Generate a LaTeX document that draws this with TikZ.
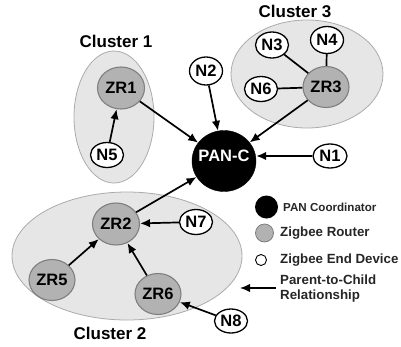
\documentclass[tikz,border=0pt]{standalone}
\usepackage{fontspec}
\setmainfont{Liberation Sans}
\usetikzlibrary{shapes.geometric,arrows.meta}
\definecolor{clusterfill}{HTML}{E6E6E6}
\definecolor{clusterdraw}{HTML}{ABABAB}
\definecolor{routerfill}{HTML}{B2B2B2}
\definecolor{routerdraw}{HTML}{7F7F7F}
\tikzset{
  cluster/.style={ellipse, fill=clusterfill, draw=clusterdraw, line width=0.8pt, inner sep=0pt},
  router/.style={ellipse, fill=routerfill, draw=routerdraw, line width=1.1pt, minimum width=46pt, minimum height=41pt, inner sep=0pt, font=\fontsize{16.5}{18}\selectfont\bfseries},
  enddev/.style={ellipse, fill=white, draw=black, line width=1.3pt, minimum width=33pt, minimum height=25pt, inner sep=0pt, font=\fontsize{16.5}{18}\selectfont\bfseries},
  coord/.style={ellipse, fill=black, draw=black, minimum width=64pt, minimum height=61pt, inner sep=0pt, text=white, font=\fontsize{16.5}{18}\selectfont\bfseries},
  clabel/.style={font=\fontsize{17}{19}\selectfont\bfseries, inner sep=0pt},
  legtext/.style={font=\fontsize{13.3}{15}\selectfont\bfseries, inner sep=0pt, anchor=west, text=black!85},
  conn/.style={line width=1.7pt, -{Latex[length=10pt,width=8.5pt]}},
  plain/.style={line width=1.7pt},
}
\begin{document}
\begin{tikzpicture}[x=1pt,y=-1pt]
\useasboundingbox (0,0) rectangle (401,346);
% clusters
\node[cluster, minimum width=80pt, minimum height=132pt] (c1) at (114,117) {};
\node[cluster, minimum width=152pt, minimum height=108pt] (c3) at (307,74) {};
\node[cluster, minimum width=230pt, minimum height=128pt] (c2) at (127,256) {};
\node[clabel] (l1) at (116,41) {Cluster 1};
\node[clabel] (l3) at (295,11) {Cluster 3};
\node[clabel] (l2) at (110,333) {Cluster 2};
% nodes
\node[coord] (pan) at (224,161) {};
\node[font=\fontsize{16.5}{18}\selectfont\bfseries, text=white, inner sep=0pt] (pant) at (224,156) {PAN-C};
\node[router, minimum width=47pt, minimum height=42pt] (zr1) at (121,88) {ZR1};
\node[enddev, minimum height=25pt] (n5) at (107,155) {N5};
\node[enddev, minimum height=28pt] (n2) at (206,71) {N2};
\node[router] (zr3) at (326,87) {ZR3};
\node[enddev, minimum height=26pt] (n3) at (272,45) {N3};
\node[enddev, minimum height=27pt] (n4) at (327,40) {N4};
\node[enddev] (n6) at (261,89) {N6};
\node[enddev, minimum width=34pt, minimum height=24pt] (n1) at (330,156) {N1};
\node[router, minimum width=47pt, minimum height=42pt] (zr2) at (116,224) {ZR2};
\node[router] (zr5) at (52,280) {ZR5};
\node[router] (zr6) at (158,294) {ZR6};
\node[enddev] (n7) at (196,222) {N7};
\node[enddev, minimum height=24pt] (n8) at (231,321) {N8};
% connectors
\draw[conn] (zr1) -- (pan);
\draw[conn] (n5) -- (zr1);
\draw[conn] (n2) -- (pan);
\draw[conn] (zr3) -- (pan);
\draw[conn] (n1.west) -- (pan.east |- n1.west);
\draw[conn] (zr2) -- (pan);
\draw[conn] (n7) -- (zr2);
\draw[conn] (zr5) -- (zr2);
\draw[conn] (zr6) -- (zr2);
\draw[conn] (n8) -- (zr6);
\draw[plain] (n3) -- (zr3);
\draw[plain] (n4) -- (zr3);
\draw[plain] (n6) -- (zr3);
% legend
\node[circle, fill=black, minimum size=23pt, inner sep=0pt] (lg1) at (266.5,207) {};
\node[circle, fill=routerfill, draw=routerdraw, line width=0.8pt, minimum size=18pt, inner sep=0pt] (lg2) at (264.5,233) {};
\node[circle, fill=white, draw=black, line width=0.9pt, minimum size=11pt, inner sep=0pt] (lg3) at (261,260) {};
\node[legtext, font=\fontsize{11.6}{13}\selectfont\bfseries] (t1) at (283,207) {PAN Coordinator};
\node[legtext] (t2) at (280,233) {Zigbee Router};
\node[legtext] (t3) at (280,260) {Zigbee End Device};
\node[legtext, align=left] (t4) at (280,289) {Parent-to-Child\\Relationship};
\coordinate (la) at (240,288);
\draw[conn, line width=1.5pt] (t4.west |- la) ++(-4,0) coordinate (lb) -- (la);
\end{tikzpicture}
\end{document}
